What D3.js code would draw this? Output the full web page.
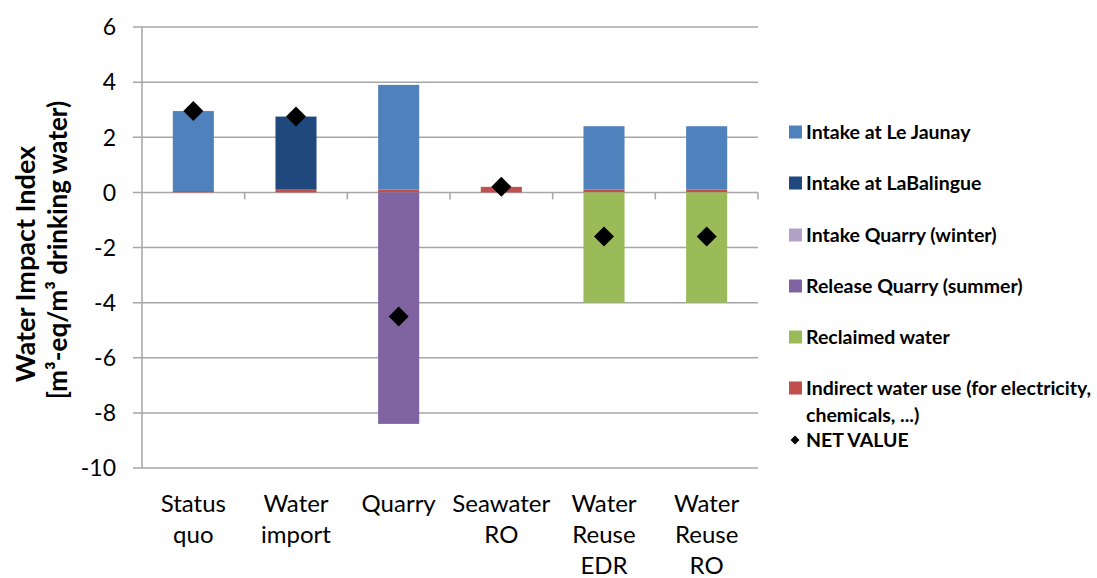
<!DOCTYPE html>
<html lang="en">
<head>
<meta charset="utf-8">
<title>water impact index</title>
<script src="https://cdn.jsdelivr.net/npm/d3@7"></script>
<style>
body{margin:0;background:#fff;}
text{font-family:Lato,"Open Sans",sans-serif;fill:#000;}
</style>
</head>
<body>
<div id="chart"></div>
<script>
// scenarios on the x axis (lines of each label)
var scenarios = ["Status quo","Water import","Quarry","Seawater RO","Water Reuse EDR","Water Reuse RO"]
var scenarioLines = [["Status","quo"],["Water","import"],["Quarry"],["Seawater","RO"],["Water","Reuse","EDR"],["Water","Reuse","RO"]]

// series values, one per scenario
var intakeJaunay   = [2.9, 0,    3.8,  0,   2.3,  2.3]
var intakeBalingue = [0,   2.65, 0,    0,   0,    0]
var intakeQuarry   = [0,   0,    0,    0,   0,    0]
var releaseQuarry  = [0,   0,   -8.4,  0,   0,    0]
var reclaimed      = [0,   0,    0,    0,  -4.0, -4.0]
var indirect       = [0.05,0.1,  0.1,  0.2, 0.1,  0.1]
var netValue       = [2.95,2.75,-4.5,  0.2,-1.6, -1.6]

var seriesNames = ["Intake at Le Jaunay","Intake at LaBalingue","Intake Quarry (winter)","Release Quarry (summer)","Reclaimed water","Indirect water use (for electricity, chemicals, ...)"]
var seriesColors = ["#4F81BD","#1F497D","#B3A2C7","#8064A2","#9BBB59","#C0504D"]
var yTicks = [6,4,2,0,-2,-4,-6,-8,-10]

var W = 1097, H = 578
var pLeft = 142, pRight = 758, pTop = 27, pBottom = 468

var rows = scenarios.map(function(s,i){
	return {name:s, jaunay:intakeJaunay[i], balingue:intakeBalingue[i], iquarry:intakeQuarry[i],
		rquarry:releaseQuarry[i], reclaimed:reclaimed[i], indirect:indirect[i], net:netValue[i]}
})
var keys = ["jaunay","balingue","iquarry","rquarry","reclaimed","indirect"]
// indirect sits right on zero, the rest stack on top of it
var stackKeys = ["indirect","jaunay","balingue","iquarry","rquarry","reclaimed"]

var svg = d3.select("#chart").append("svg").attr("width",W).attr("height",H)

var x = d3.scaleBand().domain(scenarios).range([pLeft,pRight]).paddingInner(0).paddingOuter(0)
var y = d3.scaleLinear().domain([-10,6]).range([pBottom,pTop])

// gridlines
svg.append("g").selectAll("line").data(yTicks).enter().append("line")
	.attr("x1",pLeft-9).attr("x2",pRight)
	.attr("y1",function(d){return y(d)}).attr("y2",function(d){return y(d)})
	.attr("stroke","#A6A6A6").attr("stroke-width",1.5)

// y labels
svg.append("g").selectAll("text").data(yTicks).enter().append("text")
	.attr("x",116).attr("y",function(d){return y(d)})
	.attr("dy","0.36em").attr("text-anchor","end")
	.style("font-size","23px")
	.text(function(d){return d})

// bars
var stack = d3.stack().keys(stackKeys).offset(d3.stackOffsetDiverging)
var layers = stack(rows)
var bw = x.bandwidth()*0.4
svg.append("g").selectAll("g").data(layers).enter().append("g")
	.attr("fill",function(d){return seriesColors[keys.indexOf(d.key)]})
	.selectAll("rect").data(function(d){return d}).enter().append("rect")
	.attr("x",function(d){return x(d.data.name)+(x.bandwidth()-bw)/2})
	.attr("width",bw)
	.attr("y",function(d){return y(Math.max(d[0],d[1]))})
	.attr("height",function(d){return Math.abs(y(d[0])-y(d[1]))})

// y axis line
svg.append("line").attr("x1",pLeft).attr("x2",pLeft).attr("y1",pTop).attr("y2",pBottom)
	.attr("stroke","#A6A6A6").attr("stroke-width",1.5)

// category ticks along zero line
var bounds = scenarios.map(function(s){return x(s)}).concat([pRight])
svg.append("g").selectAll("line").data(bounds.slice(1)).enter().append("line")
	.attr("x1",function(d){return d}).attr("x2",function(d){return d})
	.attr("y1",y(0)).attr("y2",y(0)+7)
	.attr("stroke","#A6A6A6").attr("stroke-width",1.5)

// net value diamonds
svg.append("g").selectAll("path").data(rows).enter().append("path")
	.attr("d",d3.symbol().type(d3.symbolSquare).size(200))
	.attr("transform",function(d){return "translate("+(x(d.name)+x.bandwidth()/2)+","+y(d.net)+") rotate(45)"})
	.attr("fill","#000")

// category labels
var cat = svg.append("g").selectAll("text").data(scenarios).enter().append("text")
	.attr("x",function(d){return x(d)+x.bandwidth()/2})
	.attr("y",512).attr("text-anchor","middle")
	.style("font-size","24px")
cat.selectAll("tspan").data(function(d,i){return scenarioLines[i]}).enter().append("tspan")
	.attr("x",function(){return x(this.parentNode.__data__)+x.bandwidth()/2})
	.attr("dy",function(d,i){return i==0?0:"31px"})
	.text(function(d){return d})

// y title
svg.append("text").attr("transform","translate(35,264) rotate(-90)")
	.attr("text-anchor","middle").style("font-size","27px").style("font-weight","bold")
	.text("Water Impact Index")
svg.append("text").attr("transform","translate(67,250) rotate(-90)")
	.attr("text-anchor","middle").style("font-size","26px").style("font-weight","bold")
	.text("[m³-eq/m³ drinking water)")

// legend
var legY = [132,183,235,286,337,388]
var leg = svg.append("g")
seriesNames.forEach(function(n,i){
	leg.append("rect").attr("x",789).attr("y",legY[i]-6.5).attr("width",13).attr("height",13).attr("fill",seriesColors[i])
	var t = leg.append("text").attr("x",806).attr("y",legY[i]).attr("dy","0.36em")
		.style("font-size","19.5px").style("font-weight","bold")
	if(i==5){
		t.append("tspan").text("Indirect water use (for electricity,")
		t.append("tspan").attr("x",806).attr("dy","27px").text("chemicals, ...)")
	}else{
		t.text(n)
	}
})
leg.append("path").attr("d",d3.symbol().type(d3.symbolSquare).size(40))
	.attr("transform","translate(795,440) rotate(45)").attr("fill","#000")
leg.append("text").attr("x",806).attr("y",440).attr("dy","0.36em")
	.style("font-size","19.5px").style("font-weight","bold").text("NET VALUE")
</script>
</body>
</html>
